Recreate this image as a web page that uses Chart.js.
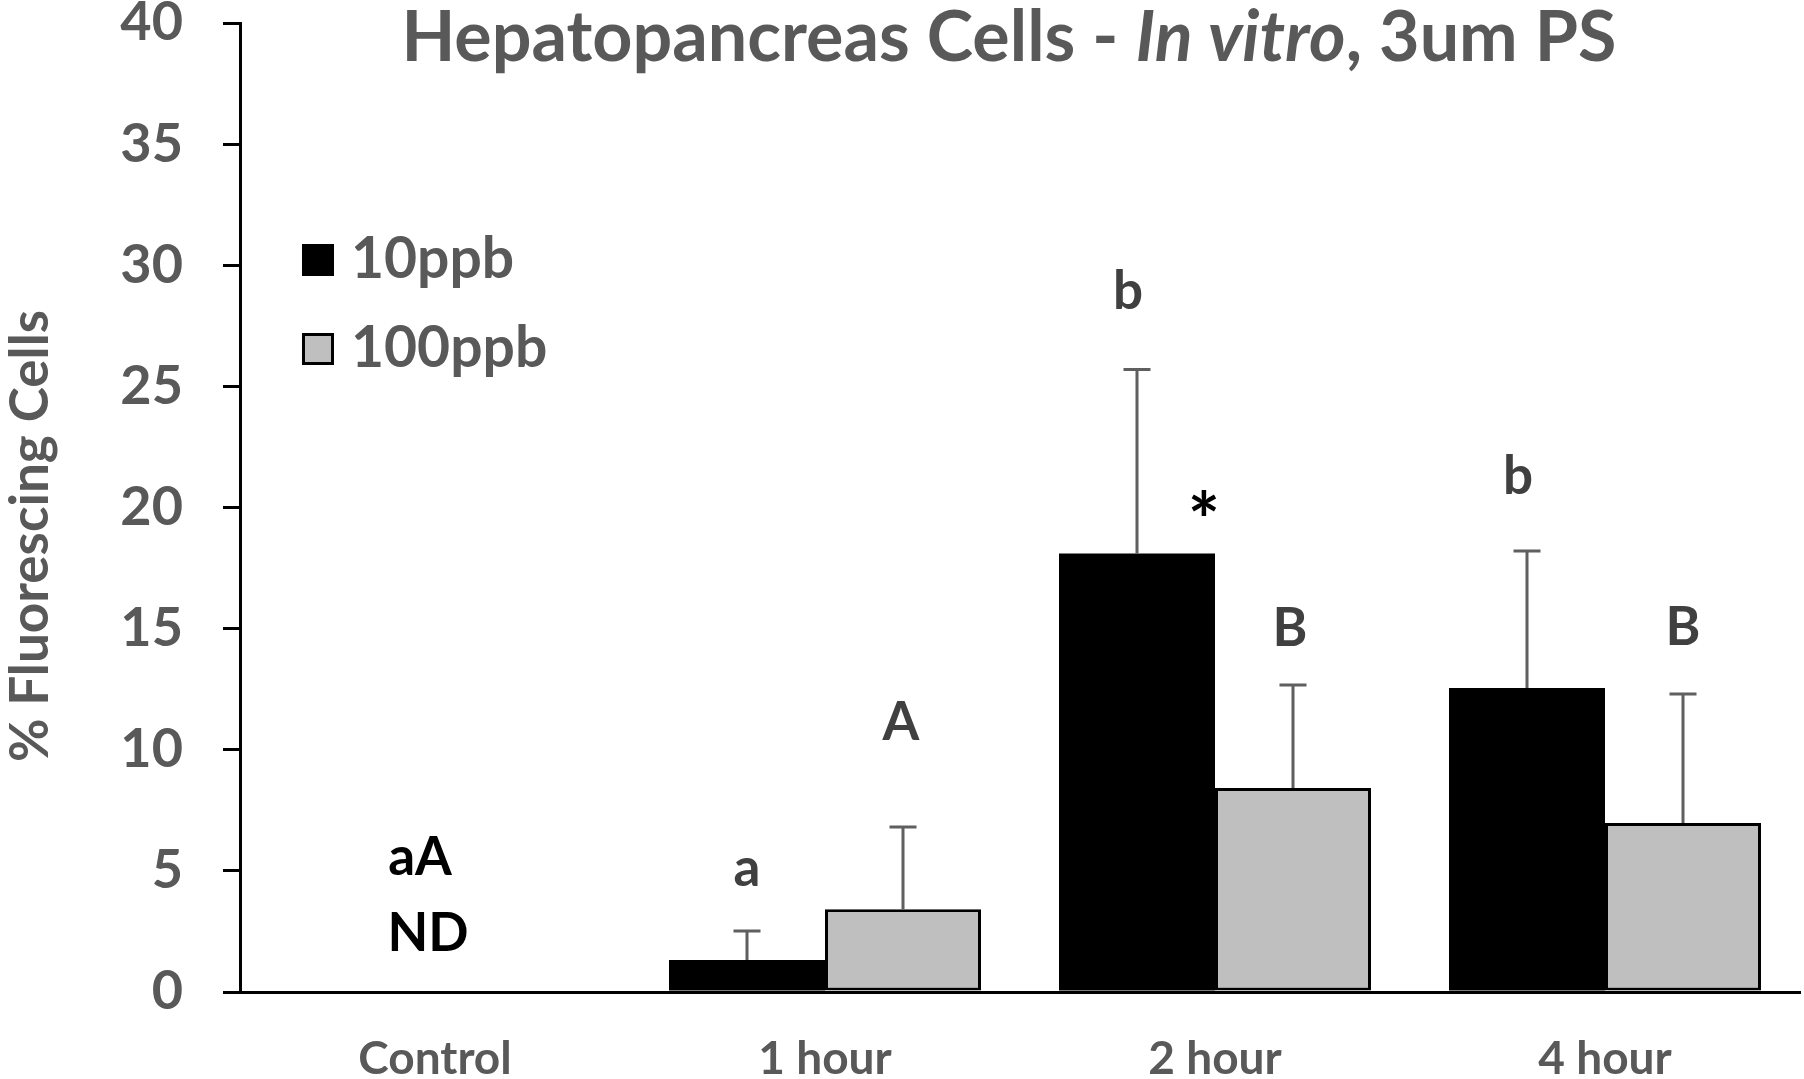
<!DOCTYPE html>
<html>
<head>
<meta charset="utf-8">
<script src="https://cdn.jsdelivr.net/npm/chart.js@4.4.0/dist/chart.umd.min.js"></script>
<style>
  html, body { margin: 0; padding: 0; background: #fff; }
  #wrap { width: 1804px; height: 1079px; }
</style>
</head>
<body>
<div id="wrap"><canvas id="chart"></canvas></div>
<script>
// data
const categories = ["Control", "1 hour", "2 hour", "4 hour"];
const seriesNames = ["10ppb", "100ppb"];
const mean10 = [0, 1.32, 18.1, 12.55];
const sd10 = [0, 1.2, 7.6, 5.65];
const mean100 = [0, 3.42, 8.42, 6.98];
const sd100 = [0, 3.39, 4.25, 5.32];
const letters10 = ["", "a", "b", "b"];
const letters100 = ["", "A", "B", "B"];
const controlNotes = ["aA", "ND"];
const yTicks = [0, 5, 10, 15, 20, 25, 30, 35, 40];

const GREY = "#595959";
const FONT = "Lato";

// upward-only error bars
const errorBars = {
  id: "errorBars",
  afterDatasetsDraw(chart) {
    const { ctx, scales: { y } } = chart;
    const sds = [sd10, sd100];
    ctx.save();
    ctx.strokeStyle = "#5f5f5f";
    ctx.lineWidth = 3;
    chart.data.datasets.forEach((ds, i) => {
      chart.getDatasetMeta(i).data.forEach((bar, j) => {
        if (!sds[i][j]) return;
        const top = y.getPixelForValue(ds.data[j] + sds[i][j]);
        const base = y.getPixelForValue(ds.data[j]);
        ctx.beginPath();
        ctx.moveTo(bar.x, base);
        ctx.lineTo(bar.x, top);
        ctx.moveTo(bar.x - 13.5, top);
        ctx.lineTo(bar.x + 13.5, top);
        ctx.stroke();
      });
    });
    ctx.restore();
  }
};

// significance letters above the error bars
const letterLabels = {
  id: "letterLabels",
  afterDatasetsDraw(chart) {
    const { ctx, scales: { x, y } } = chart;
    const letters = [letters10, letters100];
    const sds = [sd10, sd100];
    const lift = [[0, 62, 78, 74], [0, 104, 56, 66]];
    const shift = [[0, 0, -9, -9], [0, -2, -3, 0]];
    ctx.save();
    ctx.font = `bold 53px ${FONT}`;
    ctx.textAlign = "center";
    ctx.textBaseline = "middle";
    ctx.fillStyle = "#404040";
    chart.data.datasets.forEach((ds, i) => {
      chart.getDatasetMeta(i).data.forEach((bar, j) => {
        if (!letters[i][j]) return;
        const top = y.getPixelForValue(ds.data[j] + sds[i][j]);
        ctx.fillText(letters[i][j], bar.x + shift[i][j], top - lift[i][j]);
      });
    });
    // control group: no fluorescence detected
    ctx.fillStyle = "#000";
    const cx = x.getPixelForValue(0);
    ctx.fillText(controlNotes[0], cx - 15, y.getPixelForValue(0) - 134);
    ctx.fillText(controlNotes[1], cx - 7, y.getPixelForValue(0) - 58);
    // asterisk between 10ppb and 100ppb at 2 hour
    const b2 = chart.getDatasetMeta(0).data[2];
    ctx.font = `bold 76px ${FONT}`;
    ctx.textBaseline = "alphabetic";
    ctx.fillText("*", x.getPixelForValue(2) - 11, b2.y - 6);
    ctx.restore();
  }
};

// title with italic "In vitro", y title and legend box
const decorations = {
  id: "decorations",
  afterDraw(chart) {
    const { ctx, chartArea } = chart;
    ctx.save();
    ctx.fillStyle = GREY;
    ctx.textBaseline = "middle";
    const parts = [
      ["Hepatopancreas Cells - ", "bold"],
      ["In vitro", "italic bold"],
      [", 3um PS", "bold"]
    ];
    let total = 0;
    parts.forEach(p => { ctx.font = `${p[1]} 70px ${FONT}`; p.push(ctx.measureText(p[0]).width); total += p[2]; });
    let tx = (chartArea.left + chartArea.right) / 2 - 11 - total / 2;
    ctx.textAlign = "left";
    parts.forEach(p => { ctx.font = `${p[1]} 70px ${FONT}`; ctx.fillText(p[0], tx, 38); tx += p[2]; });

    ctx.save();
    ctx.translate(31, 536);
    ctx.rotate(-Math.PI / 2);
    ctx.textAlign = "center";
    ctx.font = `bold 53px ${FONT}`;
    ctx.fillText("% Fluorescing Cells", 0, 0);
    ctx.restore();

    chart.data.datasets.forEach((ds, i) => {
      const top = 244 + i * 89;
      ctx.fillStyle = ds.backgroundColor;
      ctx.fillRect(302, top, 32, 32);
      if (ds.borderWidth) {
        ctx.strokeStyle = "#000";
        ctx.lineWidth = 3;
        ctx.strokeRect(303.5, top + 1.5, 29, 29);
      }
      ctx.fillStyle = GREY;
      ctx.font = `bold 57px ${FONT}`;
      ctx.textAlign = "left";
      ctx.fillText(ds.label, 351, top + 16);
    });
    ctx.restore();
  }
};

const ctx = document.getElementById("chart").getContext("2d");
const chart = new Chart(ctx, {
  type: "bar",
  data: {
    labels: categories,
    datasets: [
      {
        label: seriesNames[0],
        data: mean10,
        backgroundColor: "#000000",
        borderWidth: 0,
        categoryPercentage: 0.8,
        barPercentage: 1.0
      },
      {
        label: seriesNames[1],
        data: mean100,
        backgroundColor: "#bfbfbf",
        borderColor: "#000000",
        borderWidth: 3,
        borderSkipped: false,
        categoryPercentage: 0.8,
        barPercentage: 1.0
      }
    ]
  },
  options: {
    responsive: true,
    maintainAspectRatio: false,
    animation: false,
    devicePixelRatio: 1,
    layout: { padding: { top: 23, right: 4, left: 0, bottom: 0 } },
    plugins: {
      legend: { display: false },
      tooltip: { enabled: false }
    },
    scales: {
      x: {
        grid: { display: false },
        border: { display: true, color: "#000", width: 3 },
        ticks: {
          color: GREY,
          font: { family: FONT, weight: "bold", size: 46 },
          padding: 32,
          maxRotation: 0
        },
        afterFit(s) { s.height = 87; s.paddingLeft = 0; s.paddingRight = 0; }
      },
      y: {
        min: 0,
        max: 40,
        afterBuildTicks(s) { s.ticks = yTicks.map(v => ({ value: v })); },
        ticks: {
          color: GREY,
          font: { family: FONT, weight: "bold", size: 54 },
          padding: 40
        },
        grid: {
          drawOnChartArea: false,
          drawTicks: true,
          tickLength: 17,
          color: "#000",
          lineWidth: 3
        },
        border: { display: true, color: "#000", width: 3 },
        afterFit(s) { s.width = 240; s.paddingTop = 0; s.paddingBottom = 0; }
      }
    }
  },
  plugins: [errorBars, letterLabels, decorations]
});
</script>
</body>
</html>
